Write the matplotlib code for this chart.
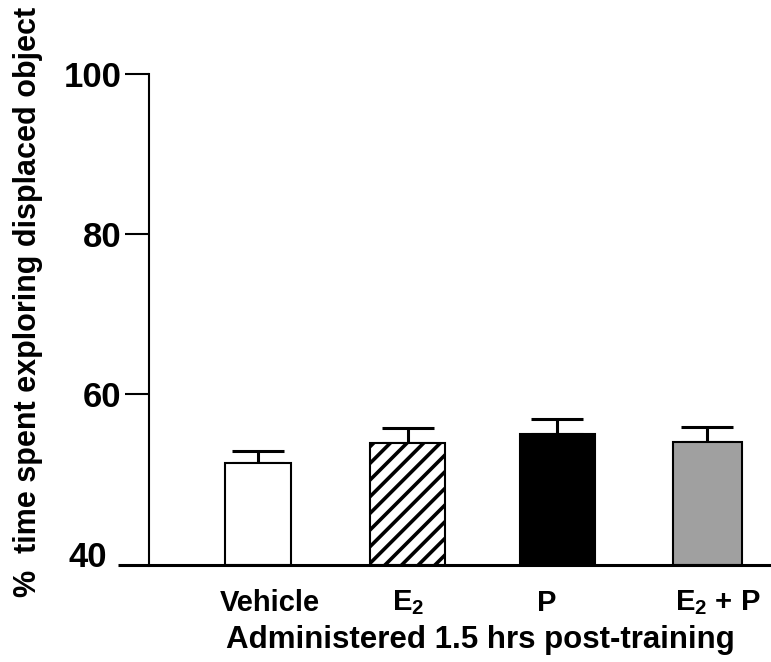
import matplotlib
matplotlib.use("Agg")
import matplotlib.pyplot as plt

# group means and SEM (% time exploring the displaced object)
groups = ["Vehicle", r"$\mathbf{E}_{2}$", "P", r"$\mathbf{E}_{2}$ + P"]
means = [51.4, 53.9, 55.0, 54.0]
sems = [1.5, 1.85, 1.9, 1.9]

colors = ["white", "white", "black", "#a0a0a0"]
hatches = [None, "//", None, None]
widths = [0.44, 0.50, 0.50, 0.46]
label_shift = [0.08, 0.0, -0.07, 0.07]

plt.rcParams["font.family"] = ["Liberation Sans", "DejaVu Sans"]
plt.rcParams["font.weight"] = "bold"
plt.rcParams["mathtext.fontset"] = "custom"
plt.rcParams["mathtext.rm"] = "Liberation Sans"
plt.rcParams["mathtext.bf"] = "Liberation Sans:bold"
plt.rcParams["hatch.linewidth"] = 2.6

fig = plt.figure(figsize=(7.71, 6.62), dpi=100)
ax = fig.add_axes([149 / 771, 1 - 565 / 662, 621 / 771, 491 / 662])

x = list(range(len(groups)))
base = 38.625
for xi, m, c, h, w in zip(x, means, colors, hatches, widths):
    ax.bar(xi, m - base, bottom=base, width=w, color=c, hatch=h,
           edgecolor="black", linewidth=1.5, zorder=2)

ax.errorbar(x, means, yerr=[[0] * len(sems), sems], fmt="none",
            ecolor="black", elinewidth=2.2, capsize=19, capthick=2.2, zorder=1)

ax.set_xlim(-0.728, 3.42)
ax.set_ylim(base, 100)
ax.set_yticks([40, 60, 80, 100])
ax.set_xticks([xi + s for xi, s in zip(x, label_shift)])
ax.set_xticklabels(groups, fontsize=21, fontweight="bold")

ax.tick_params(axis="y", length=17, width=1.5, pad=3, labelsize=25)
ax.tick_params(axis="x", length=0, pad=17)
for lab in ax.get_yticklabels():
    lab.set_fontweight("bold")

# the 40 tick has no tick mark; the x axis line runs out under its label instead
t40 = ax.yaxis.get_major_ticks()[0]
t40.tick1line.set_visible(False)
t40.set_pad(13)
ax.plot([-31 / 621, 0], [0, 0], transform=ax.transAxes, color="black",
        lw=2.2, clip_on=False, solid_capstyle="butt")

for side in ["top", "right"]:
    ax.spines[side].set_visible(False)
ax.spines["left"].set_linewidth(1.5)
ax.spines["bottom"].set_linewidth(2.2)

fig.text(28 / 771, 1 - 302 / 662, "%  time spent exploring displaced object",
         rotation=90, ha="center", va="center", fontsize=22, fontweight="bold")
ax.set_xlabel("Administered 1.5 hrs post-training", fontsize=22.5,
              fontweight="bold")
ax.xaxis.set_label_coords(0.533, -0.122)

fig.savefig("out.png", dpi=100)
